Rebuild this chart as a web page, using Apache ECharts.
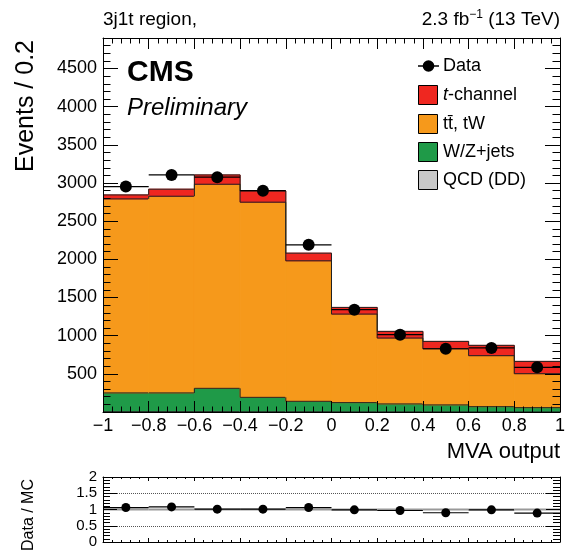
<!DOCTYPE html>
<html>
<head>
<meta charset="utf-8">
<script src="https://cdn.jsdelivr.net/npm/echarts@6/dist/echarts.min.js"></script>
<style>
html, body { margin: 0; padding: 0; background: #fff; }
#chart { width: 568px; height: 555px; }
</style>
</head>
<body>
<div id="chart"></div>
<script>
// bin edges of the MVA output histogram
var binEdges = [-1, -0.8, -0.6, -0.4, -0.2, 0, 0.2, 0.4, 0.6, 0.8, 1];
// stacked MC, bottom to top
var qcdDD = [4, 4, 4, 3, 3, 2, 2, 2, 1, 1];
var wzJets = [246, 246, 306, 189, 137, 121, 104, 91, 69, 56];
var ttbarTW = [2542, 2577, 2674, 2557, 1841, 1160, 863, 736, 668, 445];
var tChannel = [52, 92, 122, 147, 100, 87, 87, 96, 135, 161];
var dataEvents = [2953, 3106, 3076, 2900, 2190, 1340, 1013, 829, 839, 585];
// ratio panel
var dataOverMC = [1.06, 1.08, 1.01, 1.01, 1.06, 0.99, 0.97, 0.90, 0.99, 0.89];
var ratioRefLines = [0.5, 1.5];

var layers = [qcdDD, wzJets, ttbarTW, tChannel];
var layerColors = ['#c8c8c8', '#1f9a48', '#f6991b', '#ef2720'];
var FONT = '"Liberation Sans", Arial, Helvetica, sans-serif';
var TICK = '#000';

var bins = [], centers = [], ratioPts = [];
for (var i = 0; i < dataEvents.length; i++) {
    bins.push([binEdges[i], binEdges[i + 1], dataEvents[i], dataOverMC[i]]);
    var c = (binEdges[i] + binEdges[i + 1]) / 2;
    centers.push([c, dataEvents[i]]);
    ratioPts.push([c, dataOverMC[i]]);
}

function cumTop(k, i) {
    var s = 0;
    for (var j = 0; j <= k; j++) s += layers[j][i];
    return s;
}

function renderStack(params, api) {
    var i = params.dataIndex;
    var fills = [], lines = [];
    for (var k = 0; k < layers.length; k++) {
        var base = k == 0 ? 0 : cumTop(k - 1, i);
        var top = cumTop(k, i);
        var p0 = api.coord([binEdges[i], base]);
        var p1 = api.coord([binEdges[i + 1], top]);
        fills.push({
            type: 'rect',
            shape: { x: p0[0], y: p1[1], width: p1[0] - p0[0], height: p0[1] - p1[1] },
            style: { fill: layerColors[k], stroke: layerColors[k], lineWidth: 1 }
        });
        lines.push({
            type: 'line',
            shape: { x1: p0[0], y1: p1[1], x2: p1[0], y2: p1[1] },
            style: { stroke: '#222', lineWidth: 1 }
        });
        if (i > 0) {
            var prev = api.coord([binEdges[i], cumTop(k, i - 1)]);
            lines.push({
                type: 'line',
                shape: { x1: p0[0], y1: prev[1], x2: p0[0], y2: p1[1] },
                style: { stroke: '#222', lineWidth: 1 }
            });
        }
    }
    return { type: 'group', children: fills.concat(lines) };
}

function renderDataBar(params, api) {
    var a = api.coord([api.value(0), api.value(2)]);
    var b = api.coord([api.value(1), api.value(2)]);
    return {
        type: 'line',
        shape: { x1: a[0], y1: a[1], x2: b[0], y2: b[1] },
        style: { stroke: '#000', lineWidth: 1.2 }
    };
}

function renderRatioBar(params, api) {
    var m0 = api.coord([api.value(0), 1]);
    var m1 = api.coord([api.value(1), 1]);
    var a = api.coord([api.value(0), api.value(3)]);
    var b = api.coord([api.value(1), api.value(3)]);
    return {
        type: 'group',
        children: [
            { type: 'line', shape: { x1: m0[0], y1: m0[1], x2: m1[0], y2: m1[1] }, style: { stroke: '#999', lineWidth: 2 } },
            { type: 'line', shape: { x1: a[0], y1: a[1], x2: b[0], y2: b[1] }, style: { stroke: '#000', lineWidth: 1.2 } }
        ]
    };
}

function xAx(grid, pos, showLabel, major, minor) {
    return {
        type: 'value', gridIndex: grid, position: pos, z: 10,
        min: -1, max: 1, interval: 0.2,
        axisLine: { show: true, onZero: false, lineStyle: { color: '#000', width: 1 } },
        axisTick: { show: true, inside: true, length: major, lineStyle: { color: TICK, width: 1 } },
        minorTick: { show: true, splitNumber: 5, length: minor, lineStyle: { color: TICK, width: 1 } },
        splitLine: { show: false },
        axisLabel: {
            show: showLabel, margin: 5, color: '#000', fontSize: 18, fontFamily: FONT,
            formatter: function (v) { return String(Math.round(v * 10) / 10).replace('-', '\u2212'); }
        }
    };
}

function yAx(grid, pos, min, max, interval, showLabel, fs, major, minor, fmt) {
    return {
        type: 'value', gridIndex: grid, position: pos, z: 10,
        min: min, max: max, interval: interval,
        axisLine: { show: true, onZero: false, lineStyle: { color: '#000', width: 1 } },
        axisTick: { show: true, inside: true, length: major, lineStyle: { color: TICK, width: 1 } },
        minorTick: { show: true, splitNumber: 5, length: minor, lineStyle: { color: TICK, width: 1 } },
        splitLine: { show: false },
        axisLabel: { show: showLabel, margin: 6, color: '#000', fontSize: fs, fontFamily: FONT, formatter: fmt }
    };
}

var mainLabels = function (v) { return (v > 0 && v % 500 == 0) ? String(v) : ''; };
var ratioLabels = function (v) { return String(v); };

// legend and titles, drawn as plain text elements
var legendRows = [
    { name: 'Data', y: 66 },
    { name: '{it|t}-channel', y: 95, color: layerColors[3] },
    { name: 'tt\u0304, tW', y: 124, color: layerColors[2] },
    { name: 'W/Z+jets', y: 152, color: layerColors[1] },
    { name: 'QCD (DD)', y: 180, color: layerColors[0] }
];
var decor = [];
legendRows.forEach(function (r) {
    if (r.color) {
        decor.push({ type: 'rect', shape: { x: 418.5, y: r.y - 9.5, width: 19, height: 19 }, style: { fill: r.color, stroke: '#000', lineWidth: 1 } });
    } else {
        decor.push({ type: 'line', shape: { x1: 418, y1: r.y, x2: 439, y2: r.y }, style: { stroke: '#000', lineWidth: 1.5 } });
        decor.push({ type: 'circle', shape: { cx: 428.5, cy: r.y, r: 5.8 }, style: { fill: '#000' } });
    }
    decor.push({
        type: 'text', x: 443, y: r.y,
        style: {
            text: r.name, font: '18px ' + FONT, fill: '#000', verticalAlign: 'middle', align: 'left',
            rich: { it: { font: 'italic 18px ' + FONT, fill: '#000' } }
        }
    });
});
decor = decor.concat([
    { type: 'text', x: 103, y: 20, style: { text: '3j1t region,', font: '19px ' + FONT, fill: '#000', verticalAlign: 'middle' } },
    {
        type: 'text', x: 560, y: 20,
        style: {
            text: '2.3 fb{sup|\u22121} (13 TeV)', font: '19px ' + FONT, fill: '#000', align: 'right', verticalAlign: 'middle',
            rich: { sup: { font: '12px ' + FONT, fill: '#000', verticalAlign: 'top', padding: [0, 0, 10, 0] } }
        }
    },
    { type: 'text', x: 127, y: 73, style: { text: 'CMS', font: 'bold 30px ' + FONT, fill: '#000', verticalAlign: 'middle' } },
    { type: 'text', x: 127, y: 108, style: { text: 'Preliminary', font: 'italic 24px ' + FONT, fill: '#000', verticalAlign: 'middle' } },
    { type: 'text', x: 560, y: 452, style: { text: 'MVA output', font: '22px ' + FONT, fill: '#000', align: 'right', verticalAlign: 'middle' } },
    { type: 'text', x: 26, y: 106, rotation: Math.PI / 2, style: { text: 'Events / 0.2', font: '25px ' + FONT, fill: '#000', align: 'center', verticalAlign: 'middle' } },
    { type: 'text', x: 29, y: 515, rotation: Math.PI / 2, style: { text: 'Data / MC', font: '16px ' + FONT, fill: '#000', align: 'center', verticalAlign: 'middle' } }
]);

function renderDecor() {
    return { type: 'group', children: decor };
}

var option = {
    animation: false,
    backgroundColor: '#fff',
    grid: [
        { left: 103, top: 38, width: 457, height: 374 },
        { left: 103, top: 477, width: 457, height: 65 }
    ],
    xAxis: [
        xAx(0, 'bottom', true, 11, 5.5),
        xAx(0, 'top', false, 11, 5.5),
        xAx(1, 'bottom', false, 4, 2),
        xAx(1, 'top', false, 4, 2)
    ],
    yAxis: [
        yAx(0, 'left', 0, 4900, 500, true, 18, 15, 7.5, mainLabels),
        yAx(0, 'right', 0, 4900, 500, false, 18, 15, 7.5, mainLabels),
        yAx(1, 'left', 0, 2, 0.5, true, 15, 14, 7, ratioLabels),
        yAx(1, 'right', 0, 2, 0.5, false, 15, 14, 7, ratioLabels)
    ],
    series: [
        { type: 'custom', xAxisIndex: 0, yAxisIndex: 0, data: bins, renderItem: renderStack, clip: true, silent: true },
        { type: 'custom', xAxisIndex: 0, yAxisIndex: 0, data: bins, renderItem: renderDataBar, clip: true, silent: true, encode: { x: [0, 1], y: 2 } },
        { type: 'scatter', xAxisIndex: 0, yAxisIndex: 0, data: centers, symbol: 'circle', symbolSize: 12, itemStyle: { color: '#000', opacity: 1 }, z: 5 },
        { type: 'custom', xAxisIndex: 2, yAxisIndex: 2, data: bins, renderItem: renderRatioBar, clip: true, silent: true, encode: { x: [0, 1], y: 3 } },
        {
            type: 'scatter', xAxisIndex: 2, yAxisIndex: 2, data: ratioPts, symbol: 'circle', symbolSize: 9,
            itemStyle: { color: '#000', opacity: 1 }, z: 5,
            markLine: {
                silent: true, symbol: 'none', label: { show: false },
                lineStyle: { type: 'dotted', color: '#555', width: 1 },
                data: ratioRefLines.map(function (v) { return { yAxis: v }; })
            }
        },
        { type: 'custom', xAxisIndex: 0, yAxisIndex: 0, data: [[0, 0]], renderItem: renderDecor, clip: false, silent: true, z: 6 }
    ]
};

var chart = echarts.init(document.getElementById('chart'));
chart.setOption(option);
</script>
</body>
</html>
